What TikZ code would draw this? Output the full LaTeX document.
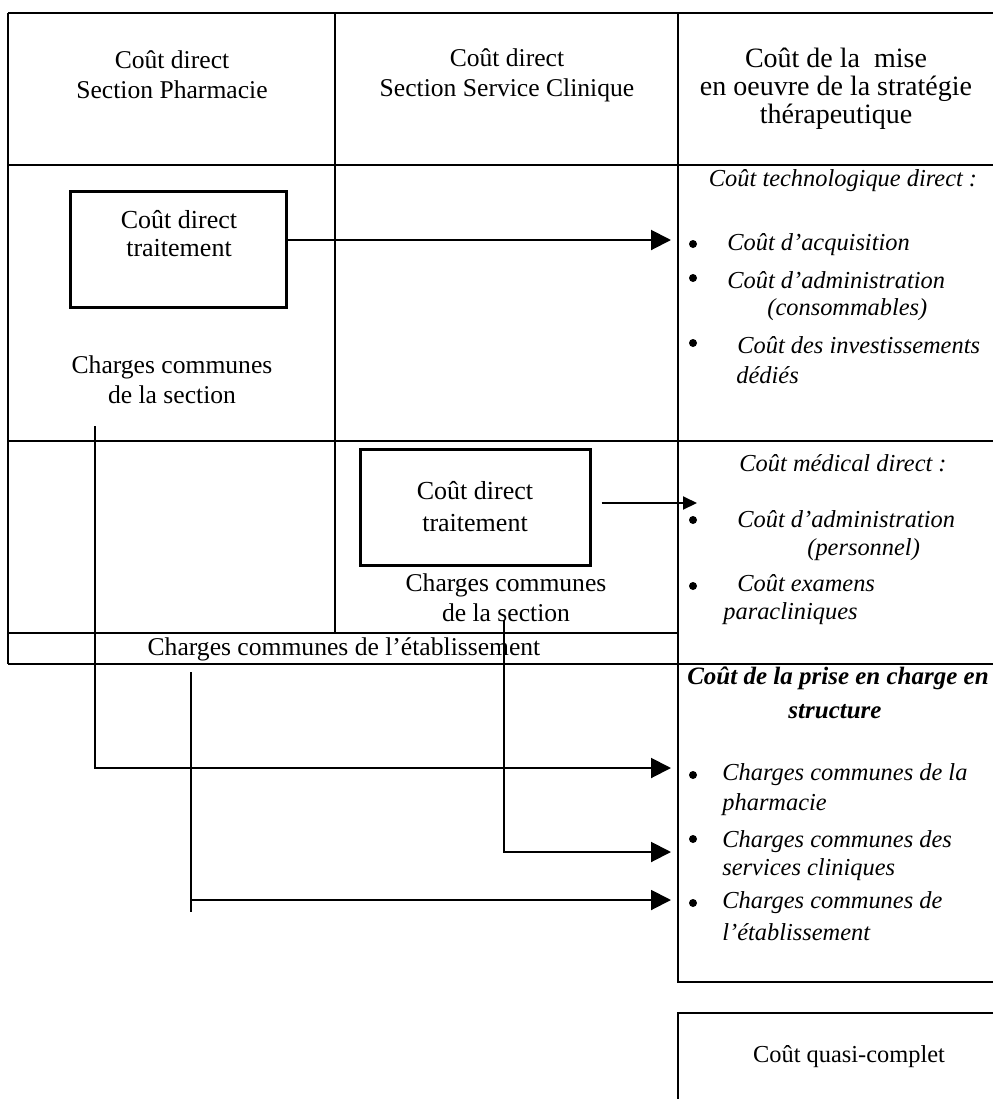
\documentclass[tikz,border=0pt]{standalone}
\usepackage{fontspec}
\setmainfont{Liberation Serif}
\usetikzlibrary{arrows.meta}
\begin{document}
\begin{tikzpicture}[x=0.5pt,y=-0.5pt,
  grid/.style={line width=1.4pt},
  conn/.style={line width=1pt},
  bigtip/.style={-{Triangle[length=10pt,width=10pt]}},
  smalltip/.style={-{Triangle[length=7pt,width=6.5pt]}},
  boxst/.style={draw,line width=1.5pt,inner sep=0pt},
  txt/.style={font=\fontsize{12.8}{15}\selectfont,align=center,inner sep=0pt},
  hdrR/.style={font=\fontsize{14}{14}\selectfont,align=center,inner sep=0pt},
  it/.style={font=\fontsize{12.2}{15}\selectfont\itshape,inner sep=0pt},
  itb/.style={font=\fontsize{12.5}{15}\selectfont\bfseries\itshape,inner sep=0pt},
  bul/.style={circle,fill,inner sep=0pt,minimum size=4pt}
]
\useasboundingbox (0,0) rectangle (993,1099);
% table
\draw[grid] (8,13) -- (993,13);
\draw[grid] (8,165) -- (993,165);
\draw[grid] (8,441) -- (993,441);
\draw[grid] (8,633) -- (678,633);
\draw[grid] (8,664) -- (993,664);
\draw[grid] (8,13) -- (8,664);
\draw[grid] (335,13) -- (335,633);
\draw[grid] (678,13) -- (678,982) -- (993,982);
\draw[grid] (993,1013) -- (678,1013) -- (678,1099);
% headers
\node[txt] (h1) at (172,75) {Coût direct\\Section Pharmacie};
\node[txt] (h2) at (507,75) {Coût direct\\Section Service Clinique};
\node[hdrR] (h3) at (836,89) {Coût de la~~mise\\en oeuvre de la stratégie\\thérapeutique};
% row 2 left
\node[boxst,minimum width=108pt,minimum height=58pt] (box1) at (178,249) {};
\node[txt,font=\fontsize{13}{14}\selectfont] (bt1) at (179,234) {Coût direct\\traitement};
\node[txt] (cc1) at (172,380) {Charges communes\\de la section};
% row 2 right
\node[it] (tech) at (843,181) {Coût technologique direct :};
\node[bul] (b11) at (693,244) {};
\node[it,anchor=west] (i11) at (727,245) {Coût d’acquisition};
\node[bul] (b12) at (693,278) {};
\node[it,anchor=west] (i12) at (727,280) {Coût d’administration};
\node[it,anchor=west] (i12b) at (767,310) {(consommables)};
\node[bul] (b13) at (693,343) {};
\node[it,anchor=west] (i13) at (737,345) {Coût des investissements};
\node[it,anchor=west] (i13b) at (736,375) {dédiés};
% row 3
\node[boxst,minimum width=115pt,minimum height=58pt,align=center,font=\fontsize{13}{16}\selectfont] (box2) at (475,507) {Coût direct\\traitement};
\node[txt] (cc2) at (506,598) {Charges communes\\de la section};
\node[txt] (cce) at (344,649) {Charges communes de l’établissement};
\node[it] (med) at (843,463) {Coût médical direct :};
\node[bul] (b21) at (693,520) {};
\node[it,anchor=west] (i21) at (737,519) {Coût d’administration};
\node[it,anchor=west] (i21b) at (807,550) {(personnel)};
\node[bul] (b22) at (693,586) {};
\node[it,anchor=west] (i22) at (737,583) {Coût examens};
\node[it,anchor=west] (i22b) at (723,614) {paracliniques};
% row 4
\node[itb] (pc1) at (838,678) {Coût de la prise en charge en};
\node[itb] (pc2) at (835,712) {structure};
\node[bul] (b31) at (693,775) {};
\node[it,anchor=west] (i31) at (722,775) {Charges communes de la};
\node[it,anchor=west] (i31b) at (722,805) {pharmacie};
\node[bul] (b32) at (693,839) {};
\node[it,anchor=west] (i32) at (722,842) {Charges communes des};
\node[it,anchor=west] (i32b) at (722,870) {services cliniques};
\node[bul] (b33) at (693,903) {};
\node[it,anchor=west] (i33) at (722,903) {Charges communes de};
\node[it,anchor=west] (i33b) at (722,932) {l’établissement};
% final box
\node[font=\fontsize{12.2}{15}\selectfont,inner sep=0pt] (qc) at (849,1057) {Coût quasi-complet};
% connectors
\coordinate (t1) at (671,240);
\coordinate (t2) at (697,503);
\coordinate (a0) at (95,426);
\coordinate (a1) at (671,768);
\coordinate (bb0) at (504,620);
\coordinate (bb1) at (671,852);
\coordinate (c0) at (191,672);
\coordinate (c1) at (671,900);
\coordinate (c2) at (191,912);
\draw[conn,bigtip] (box1.east |- t1) -- (t1);
\draw[conn,smalltip] ([xshift=5pt]box2.east |- t2) -- (t2);
\draw[conn,bigtip] (a0) |- (a1);
\draw[conn,bigtip] (bb0) |- (bb1);
\draw[conn] (c0) -- (c2);
\draw[conn,bigtip] (c0 |- c1) -- (c1);
\end{tikzpicture}
\end{document}
